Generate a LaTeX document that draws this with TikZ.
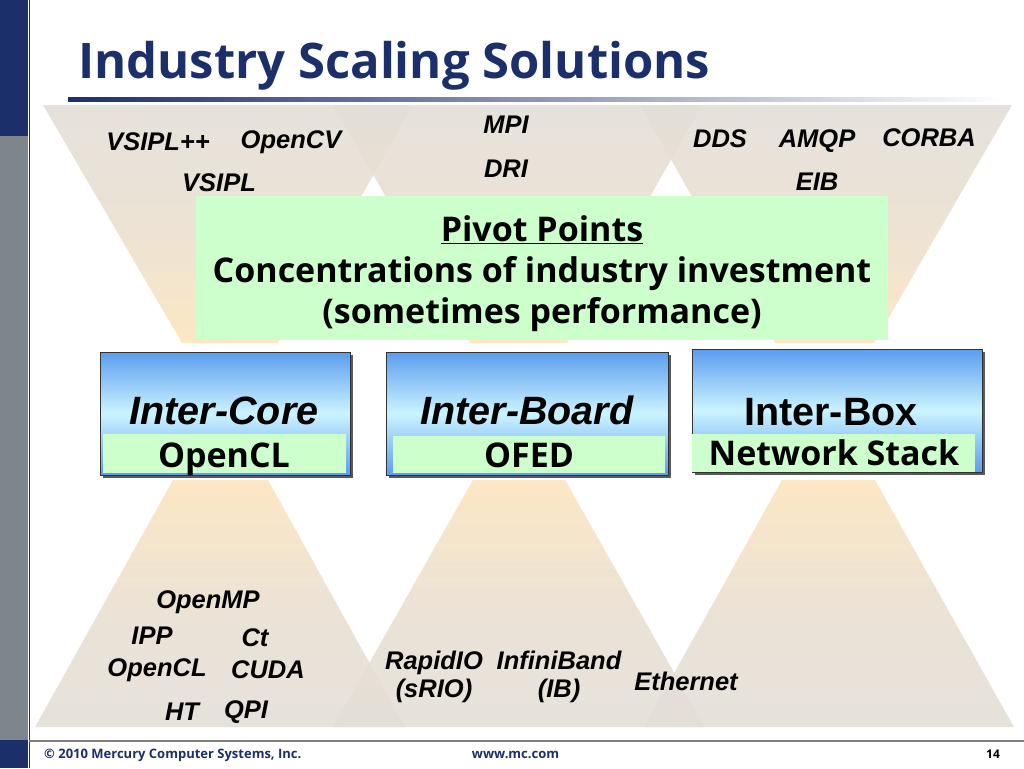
\documentclass[tikz,border=0pt]{standalone}
\usepackage{fontspec}
\newfontfamily\os{Open Sans}
\newfontfamily\ls{Liberation Sans}
\definecolor{navy}{HTML}{1B2F6B}
\definecolor{barGray}{HTML}{7E858B}
\definecolor{fgray}{HTML}{E2DED8}
\definecolor{peach}{HTML}{FDE4BC}
\definecolor{pgreen}{HTML}{CCFFCC}
\definecolor{bblue}{HTML}{5A9CEE}
\definecolor{blight}{HTML}{CCF4FF}
\tikzset{
  funnel/.style={top color=fgray, bottom color=peach, middle color=fgray!70!peach, opacity=0.88},
  pyramid/.style={top color=peach, bottom color=fgray, middle color=fgray!70!peach, opacity=0.88},
  lbl/.style={font=\ls\bfseries\itshape\fontsize{25.5}{28}\selectfont, inner sep=0pt, align=center},
  bluebox/.style={draw=black!80, line width=0.8pt, top color=bblue, bottom color=bblue, middle color=blight, inner sep=0pt},
  boxshadow/.style={fill=black!65},
  greenbar/.style={fill=pgreen, inner sep=0pt},
  bartext/.style={font=\os\bfseries\fontsize{34}{36}\selectfont, inner sep=0pt, anchor=base},
  boxtitle/.style={font=\ls\bfseries\itshape\fontsize{39.5}{42}\selectfont, inner sep=0pt, anchor=base},
  foot/.style={font=\os\bfseries\fontsize{13}{15}\selectfont, text=navy, inner sep=0pt}
}
\begin{document}
\begin{tikzpicture}[x=1pt,y=-1pt]
\useasboundingbox (0,0) rectangle (1024,768);
\fill[white] (0,0) rectangle (1024,768);
% left bar
\fill[navy] (0,0) rectangle (28,136);
\fill[barGray] (0,136) rectangle (28,740);
\fill[navy] (0,740) rectangle (28,768);
\draw[navy, line width=1pt] (29,0) -- (29,768);
% title
\node[anchor=base west, font=\os\bfseries\fontsize{49}{52}\selectfont, text=navy, inner sep=0pt] (title) at (78,78) {Industry Scaling Solutions};
\shade[left color=navy, right color=white] (68,97.5) rectangle (1005,101);
% upper funnels
\shade[funnel] (43,105) -- (413,105) -- (278,343) -- (182,343) -- cycle;
\shade[funnel] (333,105) -- (702,105) -- (567,343) -- (470,343) -- cycle;
\shade[funnel] (640,105) -- (1012,105) -- (874,343) -- (775,343) -- cycle;
% lower pyramids
\shade[pyramid] (173,480) -- (268,480) -- (405,727) -- (35,727) -- cycle;
\shade[pyramid] (473,480) -- (565,480) -- (705,727) -- (333,727) -- cycle;
\shade[pyramid] (782,480) -- (875,480) -- (1014,727) -- (644,727) -- cycle;
% pivot box
\node[fill=pgreen, minimum width=692, minimum height=144, inner sep=0pt] (pivot) at (542,268) {};
\node[font=\os\bfseries\fontsize{34}{41}\selectfont, align=center, inner sep=0pt] (pivottxt) at (542,274)
  {\underline{Pivot Points}\\Concentrations of industry investment\\(sometimes performance)};
% blue boxes
\fill[boxshadow] (103,355) rectangle (353,478);
\node[bluebox, minimum width=250, minimum height=123] (core) at (225,413.5) {};
\node[greenbar, minimum width=243, minimum height=39] (corebar) at (224.5,453.5) {};
\node[bartext] (corebt) at (224,467) {OpenCL};
\node[boxtitle] (coret) at (224,424) {Inter-Core};
\fill[boxshadow] (389,355) rectangle (671,478);
\node[bluebox, minimum width=282, minimum height=123] (board) at (527,413.5) {};
\node[greenbar, minimum width=272, minimum height=37] (boardbar) at (529,454.5) {};
\node[bartext] (boardbt) at (529,467) {OFED};
\node[boxtitle] (boardt) at (527,424) {Inter-Board};
\fill[boxshadow] (695,352) rectangle (985,475);
\node[bluebox, minimum width=290, minimum height=123] (box) at (837,410.5) {};
\node[greenbar, minimum width=283, minimum height=38] (boxbar) at (833.5,453) {};
\node[bartext] (boxbt) at (834,465) {Network Stack};
\node[font=\ls\bfseries\fontsize{39.5}{42}\selectfont, inner sep=0pt, anchor=base] (boxt) at (831,425) {Inter-Box};
% upper labels
\node[lbl] (vsiplpp) at (158,142) {VSIPL++};
\node[lbl] (opencv) at (291,142) {OpenCV};
\node[lbl] (vsipl) at (219,183) {VSIPL};
\node[lbl] (mpi) at (506,125) {MPI};
\node[lbl] (dri) at (506,169) {DRI};
\node[lbl] (dds) at (720,139) {DDS};
\node[lbl] (amqp) at (817,141) {AMQP};
\node[lbl] (corba) at (929,138) {CORBA};
\node[lbl] (eib) at (817,182) {EIB};
% lower labels
\node[lbl] (openmp) at (208,602) {OpenMP};
\node[lbl] (ipp) at (152,636) {IPP};
\node[lbl] (ct) at (255,638) {Ct};
\node[lbl] (opencl) at (157,670) {OpenCL};
\node[lbl] (cuda) at (268,670) {CUDA};
\node[lbl] (ht) at (182,712) {HT};
\node[lbl] (qpi) at (246,712) {QPI};
\node[lbl] (rapidio) at (434,677) {RapidIO\\(sRIO)};
\node[lbl] (ib) at (559,677) {InfiniBand\\(IB)};
\node[lbl] (eth) at (686,681) {Ethernet};
% footer
\draw[black!50, line width=1.2pt] (29,741) -- (1024,741);
\node[foot, anchor=west] (copy) at (44,755) {\textcopyright{} 2010 Mercury Computer Systems, Inc.};
\node[foot] (www) at (515.5,755) {www.mc.com};
\node[foot, text=black, font=\os\bfseries\fontsize{12}{14}\selectfont] (page) at (993,754) {14};
\end{tikzpicture}
\end{document}
